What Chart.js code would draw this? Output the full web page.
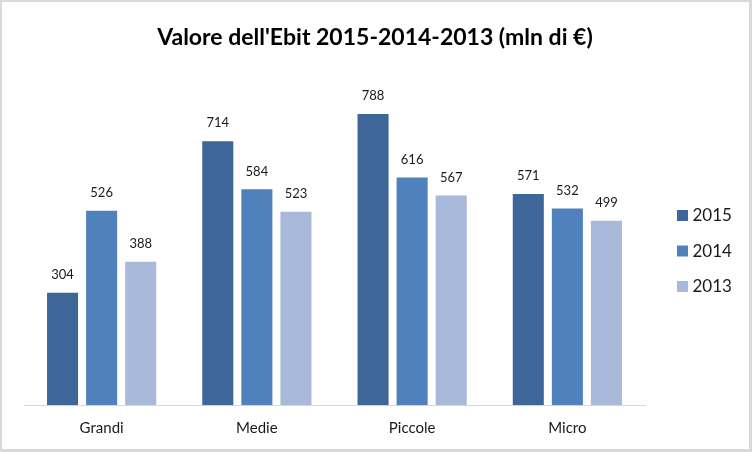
<!DOCTYPE html>
<html>
<head>
<meta charset="utf-8">
<script src="https://cdn.jsdelivr.net/npm/chart.js@4/dist/chart.umd.min.js"></script>
<style>
  html, body { margin: 0; padding: 0; background: #fff; }
  #wrap { width: 752px; height: 452px; position: relative; }
</style>
</head>
<body>
<div id="wrap"><canvas id="c" width="752" height="452"></canvas></div>
<script>
const categories = ['Grandi', 'Medie', 'Piccole', 'Micro'];
const seriesLabels = ['2015', '2014', '2013'];
const values2015 = [304, 714, 788, 571];
const values2014 = [526, 584, 616, 532];
const values2013 = [388, 523, 567, 499];
const seriesColors = ['#3e6698', '#4f81bd', '#a8b9d9'];
const titleText = "Valore dell'Ebit 2015-2014-2013 (mln di \u20ac)";
const FONT = 'Lato, "Open Sans", sans-serif';

const frameAndLegend = {
  id: 'frameAndLegend',
  beforeDraw(chart) {
    const ctx = chart.ctx;
    ctx.save();
    ctx.fillStyle = '#ffffff';
    ctx.fillRect(0, 0, chart.width, chart.height);
    ctx.restore();
  },
  afterDraw(chart) {
    const ctx = chart.ctx;
    ctx.save();
    ctx.strokeStyle = '#d9d9d9';
    ctx.lineWidth = 3;
    ctx.strokeRect(0.5, 0.5, chart.width - 2, chart.height - 2);
    // title
    ctx.font = 'bold 23px ' + FONT;
    ctx.fillStyle = '#000000';
    ctx.textAlign = 'center';
    ctx.textBaseline = 'middle';
    ctx.fillText(titleText, 375, 38);
    // legend
    const ys = [215.5, 251, 286.5];
    ctx.font = '17px ' + FONT;
    ctx.textBaseline = 'middle';
    ctx.textAlign = 'left';
    chart.data.datasets.forEach((ds, i) => {
      ctx.fillStyle = ds.backgroundColor;
      ctx.fillRect(677, ys[i] - 5.5, 11, 11);
      ctx.fillStyle = '#1a1a1a';
      ctx.fillText(ds.label, 692.5, ys[i] + 0.5);
    });
    ctx.restore();
  },
  afterDatasetsDraw(chart) {
    const ctx = chart.ctx;
    ctx.save();
    ctx.font = '13px ' + FONT;
    ctx.fillStyle = '#1a1a1a';
    ctx.textAlign = 'center';
    ctx.textBaseline = 'middle';
    chart.data.datasets.forEach((ds, i) => {
      const meta = chart.getDatasetMeta(i);
      meta.data.forEach((bar, j) => {
        ctx.fillText(String(ds.data[j]), bar.x, bar.y - 18);
      });
    });
    ctx.restore();
  }
};

new Chart(document.getElementById('c'), {
  type: 'bar',
  data: {
    labels: categories,
    datasets: [
      { label: seriesLabels[0], data: values2015, backgroundColor: seriesColors[0] },
      { label: seriesLabels[1], data: values2014, backgroundColor: seriesColors[1] },
      { label: seriesLabels[2], data: values2013, backgroundColor: seriesColors[2] }
    ]
  },
  options: {
    responsive: false,
    animation: false,
    devicePixelRatio: 1,
    layout: { padding: { left: 24, right: 107, top: 72.5, bottom: 1.6 } },
    datasets: { bar: { categoryPercentage: 0.755, barPercentage: 0.795 } },
    plugins: {
      legend: { display: false },
      tooltip: { enabled: false },
      title: { display: false }
    },
    scales: {
      x: {
        grid: { display: false, drawTicks: false },
        border: { display: true, color: '#d9d9d9', width: 1 },
        ticks: { color: '#1a1a1a', padding: 13.6, font: { family: FONT, size: 15 } }
      },
      y: {
        display: false,
        min: 0,
        max: 900
      }
    }
  },
  plugins: [frameAndLegend]
});
</script>
</body>
</html>
